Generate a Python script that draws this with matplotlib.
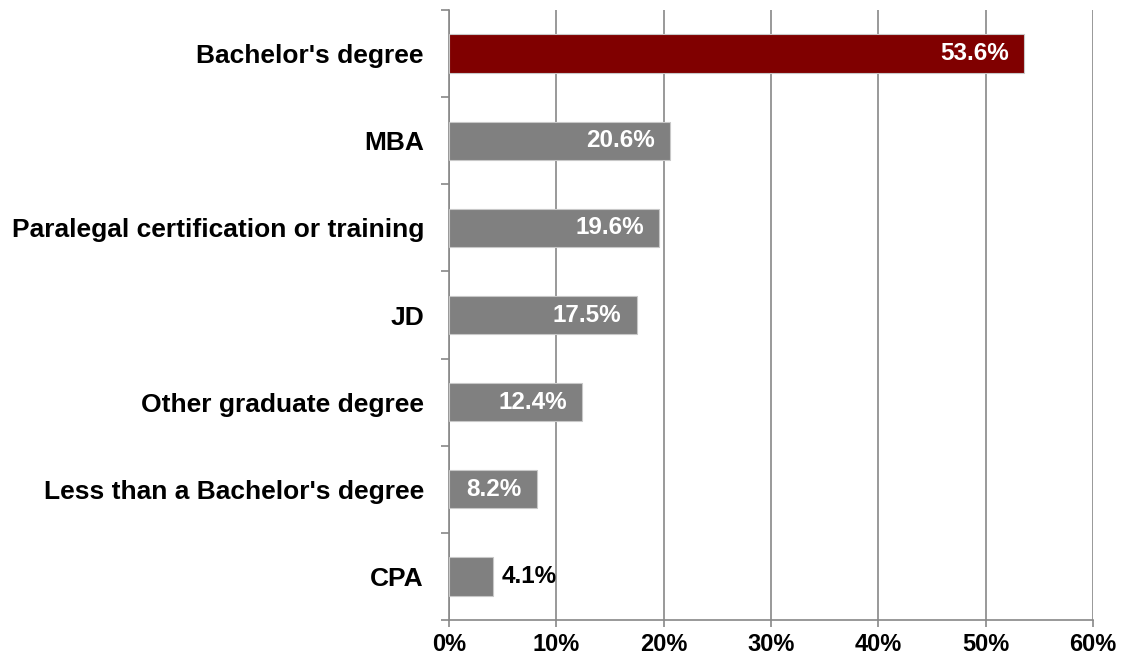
import numpy as np
import matplotlib.pyplot as plt
from matplotlib.ticker import FuncFormatter, FixedLocator

plt.rcParams['font.family'] = ['Liberation Sans', 'DejaVu Sans']

categories = ["Bachelor's degree", "MBA", "Paralegal certification or training",
              "JD", "Other graduate degree", "Less than a Bachelor's degree", "CPA"]
values = [53.6, 20.6, 19.6, 17.5, 12.4, 8.2, 4.1]
bar_colors = ["#800000"] + ["#808080"] * 6

fig = plt.figure(figsize=(11.3, 6.6), dpi=100)
ax = fig.add_axes([0.3973, 0.0606, 0.5699, 0.9242])

y = np.arange(len(categories))
bars = ax.barh(y, values, height=0.44, color=bar_colors, edgecolor="#c8c8c8",
               linewidth=0.8, zorder=3)

# value labels: inside for long bars, outside for the short one
for b, v in zip(bars, values):
    yc = b.get_y() + b.get_height() / 2
    if v > 6:
        ax.annotate(f"{v:.1f}%", (v, yc), xytext=(-11, 0), textcoords="offset points",
                    ha="right", va="center", color="white", fontsize=17.5, fontweight="bold",
                    zorder=4)
    else:
        ax.annotate(f"{v:.1f}%", (v, yc), xytext=(6, 0), textcoords="offset points",
                    ha="left", va="center", color="black", fontsize=17.5, fontweight="bold",
                    zorder=4)

ax.set_xlim(0, 60)
ax.set_ylim(len(categories) - 0.5, -0.5)
ax.set_xticks(np.arange(0, 61, 10))
ax.xaxis.set_major_formatter(FuncFormatter(lambda x, p: f"{x:.0f}%"))
ax.set_yticks(y)
ax.set_yticklabels(categories)
ax.yaxis.set_minor_locator(FixedLocator(np.arange(-0.5, len(categories), 1)))

for lab in ax.get_xticklabels():
    lab.set_fontsize(17)
    lab.set_fontweight("bold")
for lab in ax.get_yticklabels():
    lab.set_fontsize(19)
    lab.set_fontweight("bold")

ax.tick_params(axis="y", which="major", length=0, pad=18)
ax.tick_params(axis="y", which="minor", length=6, color="#888888", width=1.2)
ax.tick_params(axis="x", length=5, color="#888888", width=1.2, pad=4)

ax.grid(axis="x", color="#888888", linewidth=1.2, zorder=0)
for s in ["top", "right"]:
    ax.spines[s].set_visible(False)
for s in ["left", "bottom"]:
    ax.spines[s].set_color("#888888")
    ax.spines[s].set_linewidth(1.2)

fig.savefig("out.png", dpi=100)
